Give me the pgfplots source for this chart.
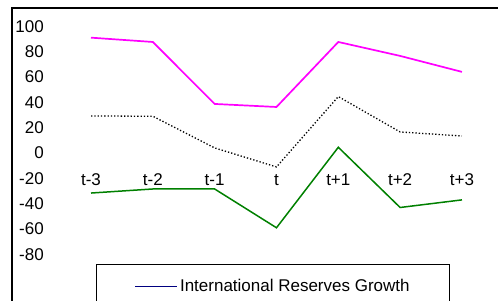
\documentclass[border=0pt]{standalone}
\usepackage{pgfplots}
\pgfplotsset{compat=1.18}
\usepackage{fontspec}
\setmainfont{Liberation Sans}
\definecolor{navy}{RGB}{0,0,128}
\definecolor{mag}{RGB}{255,0,255}
\definecolor{grn}{RGB}{0,128,0}
\begin{document}
\fontsize{17}{20}\selectfont
\begin{tikzpicture}[x=1pt,y=1pt]
\useasboundingbox (0,0) rectangle (498,300);
\clip (0,0) rectangle (498,300);
\begin{axis}[
  at={(11pt,0pt)}, anchor=south west,
  scale only axis, width=487pt, height=293pt,
  xmin=-1.294, xmax=6.583, ymin=-116, ymax=115.2,
  axis line style={draw=none}, tick style={draw=none},
  /pgf/number format/assume math mode=true,
  xtick={0,...,6},
  xticklabels={t-3,t-2,t-1,t,t+1,t+2,t+3},
  xticklabel style={anchor=center, yshift=120pt},
  ytick={-80,-60,...,100},
  yticklabel style={anchor=east, inner sep=0pt, xshift=33pt},
  legend image code/.code={\draw[#1] (0pt,0pt) -- (42pt,0pt);},
  legend style={at={(rel axis cs:0.1745,0.1229)}, anchor=north west,
    draw=black, line width=1.5pt, inner xsep=38pt, inner ysep=12pt,
    font=\fontsize{17}{20}\selectfont},
]
\addplot[mag, line width=1.7pt, forget plot] coordinates {
 (0,91) (1,87.6) (2,38.7) (3,36.3) (4,87.6) (5,76.6) (6,64)};
\addplot[black, line width=1.3pt, dash pattern=on 1.3pt off 2pt, forget plot] coordinates {
 (0,29.2) (1,29) (2,4) (3,-11) (4,44.5) (5,16.6) (6,13.4)};
\addplot[grn, line width=1.5pt, forget plot] coordinates {
 (0,-31.6) (1,-28.4) (2,-28.4) (3,-59) (4,4.5) (5,-43) (6,-37)};
\addlegendimage{navy, line width=1.3pt}
\addlegendentry{International Reserves Growth}
\end{axis}
\draw[line width=2.3pt] (12.2,-5) -- (12.2,292.2) -- (510,292.2);
\end{tikzpicture}
\end{document}
